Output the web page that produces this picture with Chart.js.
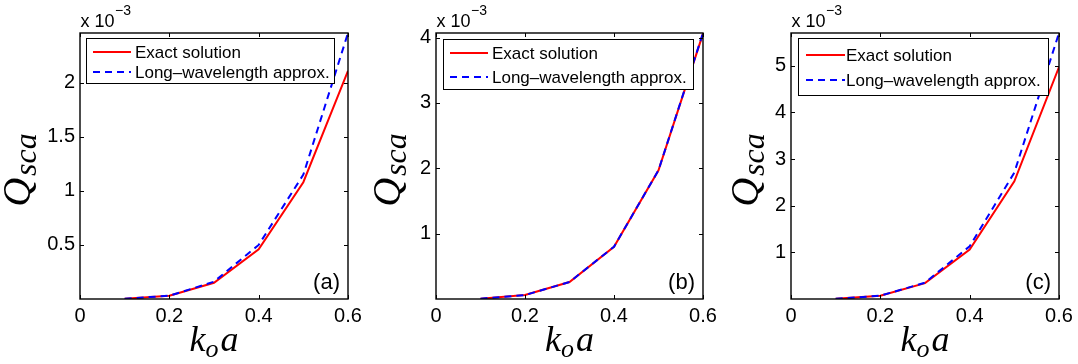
<!DOCTYPE html>
<html>
<head>
<meta charset="utf-8">
<script src="https://cdn.jsdelivr.net/npm/chart.js@4/dist/chart.umd.min.js"></script>
<style>
  body { margin: 0; background: #fff; }
  #wrap { position: relative; width: 1078px; height: 364px; overflow: hidden; }
  .panel { position: absolute; top: 0; }
</style>
</head>
<body>
<div id="wrap">
  <div class="panel" style="left:0px"><canvas id="ca" width="372" height="364"></canvas></div>
  <div class="panel" style="left:358px"><canvas id="cb" width="372" height="364"></canvas></div>
  <div class="panel" style="left:716px"><canvas id="cc" width="362" height="364"></canvas></div>
</div>
<script>
// k_o a values (x axis)
var koa = [0.1, 0.2, 0.3, 0.4, 0.5, 0.6];

// Q_sca values, in units of 1e-3
var exactA  = [0.003, 0.03, 0.15, 0.46, 1.08, 2.11];
var approxA = [0.003, 0.03, 0.16, 0.50, 1.15, 2.46];
var exactB  = [0.005, 0.06, 0.26, 0.80, 1.97, 4.06];
var approxB = [0.005, 0.06, 0.26, 0.80, 1.97, 4.07];
var exactC  = [0.004, 0.07, 0.34, 1.06, 2.52, 4.97];
var approxC = [0.004, 0.07, 0.35, 1.13, 2.71, 5.70];

var xTicks  = [0, 0.2, 0.4, 0.6];
var yTicksA = [0.5, 1, 1.5, 2];
var yTicksB = [1, 2, 3, 4];
var yTicksC = [1, 2, 3, 4, 5];

var seriesNames = ['Exact solution', 'Long\u2013wavelength approx.'];
var panelTags = ['(a)', '(b)', '(c)'];

var sans = '"Liberation Sans", Arial, Helvetica, sans-serif';
var serif = '"Liberation Serif", "Times New Roman", serif';

function pts(ys) {
  return koa.map(function (x, i) { return { x: x, y: ys[i] }; });
}

// frame, inward ticks, legend, tag, exponent and axis labels
var decor = {
  id: 'decor',
  afterDraw: function (chart, args, o) {
    var ctx = chart.ctx, a = chart.chartArea;
    var xs = chart.scales.x, ys = chart.scales.y;
    ctx.save();

    // ticks pointing inward on all four sides
    ctx.strokeStyle = '#000';
    ctx.lineWidth = 1;
    ctx.beginPath();
    xs.ticks.forEach(function (t) {
      var px = Math.round(xs.getPixelForValue(t.value)) + 0.5;
      ctx.moveTo(px, a.bottom); ctx.lineTo(px, a.bottom - 4);
      ctx.moveTo(px, a.top); ctx.lineTo(px, a.top + 4);
    });
    ys.ticks.forEach(function (t) {
      var py = Math.round(ys.getPixelForValue(t.value)) + 0.5;
      ctx.moveTo(a.left, py); ctx.lineTo(a.left + 4, py);
      ctx.moveTo(a.right, py); ctx.lineTo(a.right - 4, py);
    });
    ctx.stroke();

    // box
    ctx.lineWidth = 1.4;
    ctx.strokeRect(a.left, a.top, a.right - a.left, a.bottom - a.top);

    // legend
    var L = o.legend;
    ctx.fillStyle = '#fff';
    ctx.fillRect(a.left + L.x, a.top + L.y, L.w, L.h);
    ctx.lineWidth = 1;
    ctx.strokeStyle = '#000';
    ctx.strokeRect(a.left + L.x + 0.5, a.top + L.y + 0.5, L.w, L.h);
    ctx.font = '17px ' + sans;
    ctx.textBaseline = 'middle';
    ctx.textAlign = 'left';
    chart.data.datasets.forEach(function (ds, i) {
      var ry = a.top + L.rows[i];
      ctx.strokeStyle = ds.borderColor;
      ctx.lineWidth = 2;
      ctx.setLineDash(ds.borderDash || []);
      ctx.beginPath();
      ctx.moveTo(a.left + L.lx0, ry);
      ctx.lineTo(a.left + L.lx1, ry);
      ctx.stroke();
      ctx.setLineDash([]);
      ctx.fillStyle = '#000';
      ctx.fillText(ds.label, a.left + L.tx, ry + 1);
    });

    // panel tag
    ctx.font = '22px ' + sans;
    ctx.textAlign = 'right';
    ctx.textBaseline = 'alphabetic';
    ctx.fillText(o.tag, a.right - 8, a.bottom - 10);

    // exponent
    ctx.textAlign = 'left';
    ctx.font = '18px ' + sans;
    ctx.fillText('x 10', a.left + 0.5, a.top - 6);
    var w = ctx.measureText('x 10').width;
    ctx.font = '14px ' + sans;
    ctx.fillText('\u22123', a.left + 1 + w, a.top - 18);

    // x label  k_o a
    ctx.font = 'italic 36px ' + serif;
    var wk = ctx.measureText('k').width;
    var wa = ctx.measureText('a').width;
    ctx.font = 'italic 26px ' + serif;
    var wo = ctx.measureText('o').width;
    var cx = (a.left + a.right) / 2;
    var x0 = cx - (wk + wo + wa + 2) / 2;
    var by = a.bottom + 52;
    ctx.font = 'italic 36px ' + serif;
    ctx.fillText('k', x0, by);
    ctx.font = 'italic 26px ' + serif;
    ctx.fillText('o', x0 + wk, by + 6);
    ctx.font = 'italic 36px ' + serif;
    ctx.fillText('a', x0 + wk + wo + 2, by);

    // y label  Q_sca (rotated)
    ctx.translate(a.left - o.ylabelOff, (a.top + a.bottom) / 2 + 4);
    ctx.rotate(-Math.PI / 2);
    ctx.font = 'italic 40px ' + serif;
    var wq = ctx.measureText('Q').width;
    ctx.font = 'italic 32px ' + serif;
    var ws = ctx.measureText('sca').width;
    var s0 = -(wq + ws + 2) / 2;
    ctx.font = 'italic 40px ' + serif;
    ctx.fillText('Q', s0, 0);
    ctx.font = 'italic 32px ' + serif;
    ctx.fillText('sca', s0 + wq + 2, 6);

    ctx.restore();
  }
};

function noPad(s) {
  s.paddingLeft = 0; s.paddingRight = 0;
  s.paddingTop = 0; s.paddingBottom = 0;
}

function makePanel(id, exact, approx, yMax, yTicks, tag, lay) {
  var ctx = document.getElementById(id).getContext('2d');
  return new Chart(ctx, {
    type: 'line',
    data: {
      datasets: [{
        label: seriesNames[0],
        data: pts(exact),
        borderColor: '#ff0000',
        borderWidth: 2,
        pointRadius: 0,
        tension: 0,
        order: 1
      }, {
        label: seriesNames[1],
        data: pts(approx),
        borderColor: '#0000ff',
        borderWidth: 2,
        borderDash: [7, 5],
        pointRadius: 0,
        tension: 0,
        order: 0
      }]
    },
    options: {
      responsive: false,
      animation: false,
      devicePixelRatio: 1,
      layout: { autoPadding: false, padding: { top: 33, right: lay.padRight, left: 0, bottom: 0 } },
      plugins: {
        legend: { display: false },
        tooltip: { enabled: false },
        decor: { tag: tag, legend: lay.legend, ylabelOff: lay.ylabelOff }
      },
      scales: {
        x: {
          type: 'linear',
          min: 0,
          max: 0.6,
          grid: { display: false, drawTicks: false },
          border: { display: false },
          afterBuildTicks: function (s) { s.ticks = xTicks.map(function (v) { return { value: v }; }); },
          afterFit: function (s) { s.height = 65; noPad(s); },
          ticks: {
            padding: 5,
            color: '#000',
            font: { family: sans, size: 20 },
            callback: function (v) { return String(v); }
          }
        },
        y: {
          type: 'linear',
          min: 0,
          max: yMax,
          grid: { display: false, drawTicks: false },
          border: { display: false },
          afterBuildTicks: function (s) { s.ticks = yTicks.map(function (v) { return { value: v }; }); },
          afterFit: function (s) { s.width = lay.plotLeft; noPad(s); },
          ticks: {
            padding: 5,
            color: '#000',
            font: { family: sans, size: 20 },
            callback: function (v) { return String(v); }
          }
        }
      }
    },
    plugins: [decor]
  });
}

makePanel('ca', exactA, approxA, 2.46, yTicksA, panelTags[0], {
  plotLeft: 80, padRight: 24, ylabelOff: 50,
  legend: { x: 6, y: 5, w: 248, h: 45, rows: [19, 39], lx0: 13, lx1: 51, tx: 55 }
});
makePanel('cb', exactB, approxB, 4.07, yTicksB, panelTags[1], {
  plotLeft: 78, padRight: 27, ylabelOff: 36,
  legend: { x: 7, y: 6, w: 250, h: 50, rows: [20, 44], lx0: 14, lx1: 52, tx: 56 }
});
makePanel('cc', exactC, approxC, 5.70, yTicksC, panelTags[2], {
  plotLeft: 75, padRight: 19, ylabelOff: 33,
  legend: { x: 7, y: 5, w: 250, h: 57, rows: [22, 47], lx0: 15, lx1: 54, tx: 55 }
});
</script>
</body>
</html>
